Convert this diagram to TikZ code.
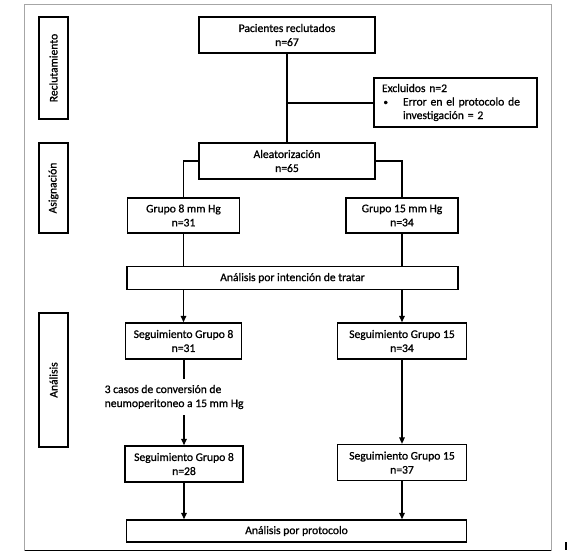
\documentclass[tikz,border=0pt]{standalone}
\usepackage{fontspec}
\setmainfont{Carlito}
\newfontfamily\heavyfont{Carlito}[FakeBold=0.9]
\usetikzlibrary{arrows.meta,calc}
\begin{document}
\begin{tikzpicture}[x=1pt,y=-1pt,
  txt/.style={font=\heavyfont\fontsize{11.6}{14}\selectfont},
  box/.style={txt,draw=black,line width=1.4pt,align=center,inner sep=0pt},
  side/.style={txt,draw=black,line width=1.4pt,inner sep=0pt,minimum width=29pt},
  conn/.style={line width=1.4pt},
  arr/.style={line width=1.4pt,-{Triangle[length=6.5pt,width=5.5pt]}}]
\useasboundingbox (0,0) rectangle (567,554);
% outer frame
\draw[gray!70,line width=0.8pt] (24.6,550.5) -- (24.6,4) -- (551,4) -- (551,550.5);
\draw[black,line width=1.2pt] (24.6,550.5) -- (551,550.5);
\fill[black] (564.5,542) rectangle (567,550);
% side labels
\node[side,minimum height=102pt] (rec) at (53.5,68) {\rotatebox{90}{Reclutamiento}};
\node[side,minimum height=90pt] (asi) at (53.5,188) {\rotatebox{90}{Asignación}};
\node[side,minimum height=134pt] (ana) at (53.5,380) {\rotatebox{90}{Análisis}};
% main boxes
\node[box,minimum width=176pt,minimum height=36pt] (pac) at (287,35) {Pacientes reclutados\\n=67};
\node[box,minimum width=163pt,minimum height=49pt,text width=147pt,align=left,inner xsep=8pt,
  font=\heavyfont\fontsize{11.6}{13.5}\selectfont] (exc) at (455.5,102.5)
  {Excluidos n=2\\\makebox[21pt][l]{\hspace{1.5pt}\raisebox{0.5pt}{\fontsize{9}{9}\selectfont\textbullet}}Error en el protocolo de\\\hspace*{21pt}investigación = 2};
\node[box,minimum width=176pt,minimum height=36pt] (ale) at (287,161) {Aleatorización\\n=65};
\node[box,minimum width=112pt,minimum height=35pt] (g8) at (183.5,215.5) {Grupo 8 mm Hg\\n=31};
\node[box,minimum width=112pt,minimum height=35pt] (g15) at (402,215.5) {Grupo 15 mm Hg\\n=34};
\node[box,minimum width=331pt,minimum height=23pt] (itt) at (292.5,278) {Análisis por intención de tratar};
\node[box,minimum width=116pt,minimum height=36pt] (s8) at (183.5,341) {Seguimiento Grupo 8\\n=31};
\node[box,minimum width=128.5pt,minimum height=36pt] (s15) at (402,341) {Seguimiento Grupo 15\\n=34};
\node[box,minimum width=118pt,minimum height=36pt] (s8b) at (184,464) {Seguimiento Grupo 8\\n=28};
\node[box,minimum width=128.5pt,minimum height=36pt] (s15b) at (402,462.6) {Seguimiento Grupo 15\\n=37};
\node[box,minimum width=340pt,minimum height=22pt] (prot) at (296.5,531) {Análisis por protocolo};
\node[txt,align=left,inner sep=0pt,anchor=west] (conv) at (104.5,397)
  {3 casos de conversión de\\neumoperitoneo a 15 mm Hg};
\coordinate (c1) at (184,379);
\coordinate (c2) at (184,415);
\coordinate (j1) at (287,103);
% connectors
\draw[conn] (pac.south) -- (ale.north);
\draw[conn] (j1) -- (exc.west |- j1);
\draw[conn] (ale.west) -| (g8.north);
\draw[conn] (ale.east) -| (g15.north);
\draw[conn] (g8.south) -- (g8.south |- itt.north);
\draw[conn] (g15.south) -- (g15.south |- itt.north);
\draw[arr] (itt.south -| s8.north) -- (s8.north);
\draw[arr] (itt.south -| s15.north) -- (s15.north);
\draw[conn] (s8.south -| c1) -- (c1);
\draw[arr] (c2) -- (c2 |- s8b.north);
\draw[arr] (s15.south) -- (s15b.north);
\draw[arr] (s8b.south) -- (s8b.south |- prot.north);
\draw[arr] (s15b.south) -- (s15b.south |- prot.north);
\end{tikzpicture}
\end{document}
